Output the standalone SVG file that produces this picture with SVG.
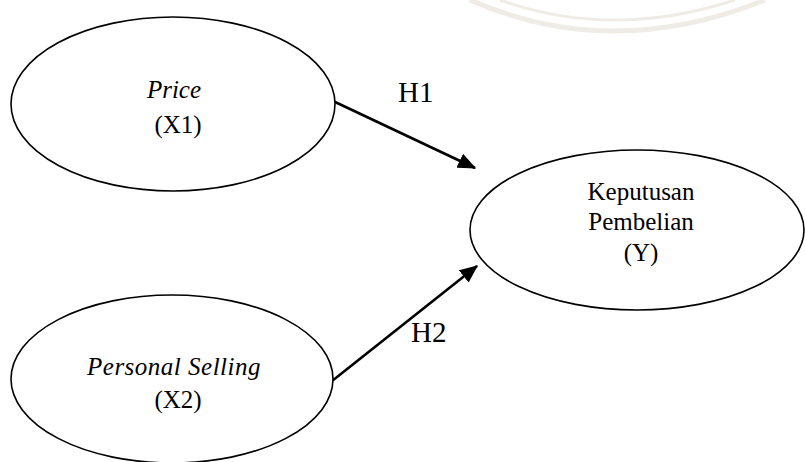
<svg xmlns="http://www.w3.org/2000/svg" width="805" height="462" viewBox="0 0 805 462">
  <style>
    .node { fill: #ffffff; stroke: #000000; stroke-width: 1.6; }
    .lbl { font-family: "Liberation Serif", "Times New Roman", serif; font-size: 25px; fill: #000000; text-anchor: middle; }
    .it { font-style: italic; }
    .hyp { font-family: "Liberation Serif", "Times New Roman", serif; font-size: 29px; fill: #000000; }
    .edge { stroke: #000000; stroke-width: 2.6; fill: none; marker-end: url(#arrow); }
    .wm { fill: none; stroke: #efece6; }
  </style>
  <defs>
    <marker id="arrow" markerWidth="7" markerHeight="6" refX="6.5" refY="3" orient="auto" markerUnits="strokeWidth">
      <path d="M0,0 L7,3 L0,6 Z" fill="#000000"/>
    </marker>
  </defs>
  <rect width="805" height="462" fill="#ffffff"/>
  <g id="watermark">
    <path class="wm" stroke-width="5" d="M470,0 Q612,62 765,0"/>
    <path class="wm" stroke-width="3" d="M500,0 Q612,40 735,0"/>
  </g>
  <g id="connectors">
    <line class="edge" x1="333" y1="101" x2="475" y2="168"/>
    <line class="edge" x1="332" y1="381" x2="477" y2="266"/>
    <text class="hyp" x="398" y="102">H1</text>
    <text class="hyp" x="411" y="342">H2</text>
  </g>
  <g id="price">
    <ellipse class="node" cx="173" cy="104" rx="162" ry="87"/>
    <text class="lbl it" x="174" y="98">Price</text>
    <text class="lbl" x="178" y="133">(X1)</text>
  </g>
  <g id="personal-selling">
    <ellipse class="node" cx="172" cy="379" rx="161" ry="84"/>
    <text class="lbl it" x="174" y="375" letter-spacing="0.5">Personal Selling</text>
    <text class="lbl" x="178" y="408">(X2)</text>
  </g>
  <g id="keputusan">
    <ellipse class="node" cx="637" cy="230" rx="167" ry="80"/>
    <text class="lbl" x="641" y="200">Keputusan</text>
    <text class="lbl" x="641" y="230">Pembelian</text>
    <text class="lbl" x="641" y="261">(Y)</text>
  </g>
</svg>
